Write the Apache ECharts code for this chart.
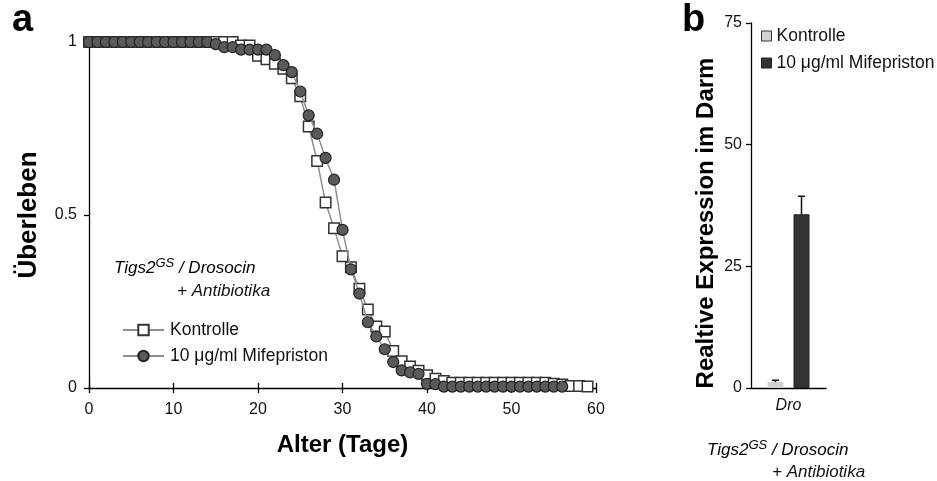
<!DOCTYPE html>
<html>
<head>
<meta charset="utf-8">
<script src="https://cdn.jsdelivr.net/npm/echarts@6/dist/echarts.min.js"></script>
<style>
  html, body { margin: 0; padding: 0; background: #fff; }
  #chart { width: 937px; height: 481px; }
</style>
</head>
<body>
<div id="chart"></div>
<script>
// Panel a: survival per day
const kontrolleDays = [0,1,2,3,4,5,6,7,8,9,10,11,12,13,14,15,16,17,18,19,20,21,22,23,24,25,26,27,28,29,30,31,32,33,34,35,36,37,38,39,40,41,42,43,44,45,46,47,48,49,50,51,52,53,54,55,56,57,58,59];
const kontrolleSurvival = [1,1,1,1,1,1,1,1,1,1,1,1,1,1,1,1,1,1,
  0.99,0.99,0.96,0.95,0.937,0.923,0.895,0.843,0.756,0.656,0.536,0.462,0.381,0.349,0.287,0.227,0.178,0.163,0.107,0.077,0.062,0.05,0.037,0.027,0.02,
  0.015,0.015,0.015,0.015,0.015,0.015,0.015,0.015,0.015,0.015,0.015,0.015,
  0.012,0.01,0.006,0.006,0.004];
const mifeDays = [0,1,2,3,4,5,6,7,8,9,10,11,12,13,14,15,16,17,18,19,20,21,22,23,24,25,26,27,28,29,30,31,32,33,34,35,36,37,38,39,40,41,42,43,44,45,46,47,48,49,50,51,52,53,54,55,56];
const mifeSurvival = [1,1,1,1,1,1,1,1,1,1,1,1,1,1,1,
  0.994,0.985,0.985,0.978,0.978,0.978,0.978,0.962,0.933,0.913,0.857,0.788,0.735,0.665,0.602,0.457,0.343,0.273,0.19,0.149,0.112,0.075,0.051,0.045,0.041,0.012,0.011,
  0.004,0.004,0.004,0.004,0.004,0.004,0.004,0.004,0.004,0.004,0.004,0.004,0.004,0.004,0.004];
const survivalTicks = [0, 0.5, 1];
const dayTicks = [0, 10, 20, 30, 40, 50, 60];

// Panel b: relative expression in the gut
const geneCategories = ['Dro'];
const kontrolleExpression = [1.2];
const kontrolleError = [0.4];
const mifeExpression = [35.7];
const mifeError = [3.7];
const expressionTicks = [0, 25, 50, 75];

const nameKontrolle = 'Kontrolle';
const nameMife = '10 \u03bcg/ml Mifepriston';
const gutPrefix = 'Darm: ';

const FONT = '"Liberation Sans", Arial, Helvetica, sans-serif';

const chart = echarts.init(document.getElementById('chart'), null, { renderer: 'canvas' });

function errorBar(offset) {
  return function (params, api) {
    const base = api.coord([api.value(0), api.value(1)]);
    const top = api.coord([api.value(0), api.value(1) + api.value(2)]);
    const x = base[0] + offset;
    const style = { stroke: '#111', lineWidth: 1.5 };
    return {
      type: 'group',
      children: [
        { type: 'line', shape: { x1: x, y1: base[1], x2: x, y2: top[1] }, style: style },
        { type: 'line', shape: { x1: x - 3.5, y1: top[1], x2: x + 3.5, y2: top[1] }, style: style }
      ]
    };
  };
}

const axisLineStyle = { color: '#000', width: 1.3 };
const tickLabel = { fontFamily: FONT, fontSize: 16, color: '#111' };
const titleStyle = { fontFamily: FONT, fontSize: 24, fontWeight: 'bold', color: '#000' };
const subtitleRich = {
  base: { fontFamily: FONT, fontSize: 17, fontStyle: 'italic', color: '#111' },
  sup: { fontFamily: FONT, fontSize: 13, fontStyle: 'italic', color: '#111', padding: [0, 0, 10, 0] }
};

const option = {
  animation: false,
  backgroundColor: '#fff',
  grid: [
    { left: 89, top: 42, width: 507, height: 346 },
    { left: 751, top: 23, width: 75, height: 365 }
  ],
  xAxis: [
    {
      gridIndex: 0, type: 'value', position: 'bottom',
      min: dayTicks[0], max: dayTicks[dayTicks.length - 1], interval: 10,
      axisLine: { lineStyle: axisLineStyle },
      axisTick: { length: 5, lineStyle: axisLineStyle },
      axisLabel: Object.assign({ margin: 14 }, tickLabel),
      splitLine: { show: false },
      name: 'Alter (Tage)', nameLocation: 'middle', nameGap: 45, nameTextStyle: titleStyle
    },
    {
      gridIndex: 0, type: 'value', position: 'bottom',
      min: dayTicks[0], max: dayTicks[dayTicks.length - 1], interval: 10,
      axisLine: { show: false },
      axisTick: { inside: true, length: 5, lineStyle: axisLineStyle },
      axisLabel: { show: false },
      splitLine: { show: false }
    },
    {
      gridIndex: 1, type: 'category', data: geneCategories,
      axisLine: { lineStyle: axisLineStyle },
      axisTick: { length: 6, lineStyle: axisLineStyle },
      axisLabel: Object.assign({ margin: 10, fontStyle: 'italic' }, tickLabel)
    }
  ],
  yAxis: [
    {
      gridIndex: 0, type: 'value', min: survivalTicks[0], max: survivalTicks[survivalTicks.length - 1], interval: 0.5,
      axisLine: { show: true, lineStyle: axisLineStyle },
      axisTick: { show: true, length: 5, lineStyle: axisLineStyle },
      axisLabel: Object.assign({ margin: 12 }, tickLabel),
      splitLine: { show: false },
      name: '\u00dcberleben', nameLocation: 'middle', nameGap: 47,
      nameTextStyle: Object.assign({}, titleStyle, { fontSize: 26 })
    },
    {
      gridIndex: 1, type: 'value', min: expressionTicks[0], max: expressionTicks[expressionTicks.length - 1], interval: 25,
      axisLine: { show: true, lineStyle: axisLineStyle },
      axisTick: { show: true, length: 5, lineStyle: axisLineStyle },
      axisLabel: Object.assign({ margin: 9 }, tickLabel),
      splitLine: { show: false }
    }
  ],
  legend: [
    {
      orient: 'vertical', left: 117, top: 315,
      itemWidth: 41, itemHeight: 13, itemGap: 6,
      data: [nameKontrolle, nameMife],
      textStyle: { fontFamily: FONT, fontSize: 17.5, color: '#111', lineHeight: 20, padding: [0, 0, 0, 1] }
    },
    {
      orient: 'vertical', left: 756, top: 21,
      itemWidth: 10, itemHeight: 10, itemGap: 7, icon: 'rect',
      data: [
        { name: gutPrefix + nameKontrolle, itemStyle: { borderColor: '#333', borderWidth: 1 } },
        { name: gutPrefix + nameMife, itemStyle: { borderColor: '#222', borderWidth: 1 } }
      ],
      formatter: function (name) { return name.replace(gutPrefix, ''); },
      textStyle: { fontFamily: FONT, fontSize: 17.5, color: '#111', lineHeight: 20 }
    }
  ],
  series: [
    {
      name: nameKontrolle, type: 'line', xAxisIndex: 0, yAxisIndex: 0,
      data: kontrolleDays.map(function (d, i) { return [d, kontrolleSurvival[i]]; }),
      symbol: 'rect', symbolSize: 10.5,
      itemStyle: { color: '#fff', borderColor: '#333', borderWidth: 1.5 },
      lineStyle: { color: '#8f8f8f', width: 1.5 },
      z: 2
    },
    {
      name: nameMife, type: 'line', xAxisIndex: 0, yAxisIndex: 0,
      data: mifeDays.map(function (d, i) { return [d, mifeSurvival[i]]; }),
      symbol: 'circle', symbolSize: 11,
      itemStyle: { color: '#5a5a5a', borderColor: '#222', borderWidth: 1.2 },
      lineStyle: { color: '#8f8f8f', width: 1.5 },
      z: 3
    },
    {
      name: gutPrefix + nameKontrolle, type: 'bar', xAxisIndex: 2, yAxisIndex: 1,
      data: kontrolleExpression, barWidth: 16, barGap: '62.5%',
      itemStyle: { color: '#d2d2d2' }
    },
    {
      name: gutPrefix + nameMife, type: 'bar', xAxisIndex: 2, yAxisIndex: 1,
      data: mifeExpression, barWidth: 16, barGap: '62.5%',
      itemStyle: { color: '#333', borderColor: '#222', borderWidth: 1 }
    },
    {
      type: 'custom', xAxisIndex: 2, yAxisIndex: 1, z: 5,
      renderItem: errorBar(-13),
      data: geneCategories.map(function (c, i) { return [i, kontrolleExpression[i], kontrolleError[i]]; })
    },
    {
      type: 'custom', xAxisIndex: 2, yAxisIndex: 1, z: 5,
      renderItem: errorBar(13),
      data: geneCategories.map(function (c, i) { return [i, mifeExpression[i], mifeError[i]]; })
    }
  ],
  graphic: [
    { type: 'text', x: 12, y: 2, style: { text: 'a', fontFamily: FONT, fontSize: 38, fontWeight: 'bold', fill: '#000' } },
    { type: 'text', x: 682, y: 2, style: { text: 'b', fontFamily: FONT, fontSize: 38, fontWeight: 'bold', fill: '#000' } },
    { type: 'text', x: 114, y: 257, style: { text: '{base|Tigs2}{sup|GS}{base| / Drosocin}', rich: subtitleRich } },
    { type: 'text', x: 177, y: 283, style: { text: '+ Antibiotika', fontFamily: FONT, fontSize: 17, fontStyle: 'italic', fill: '#111' } },
    { type: 'text', x: 707, y: 439, style: { text: '{base|Tigs2}{sup|GS}{base| / Drosocin}', rich: subtitleRich } },
    { type: 'text', x: 772, y: 464, style: { text: '+ Antibiotika', fontFamily: FONT, fontSize: 17, fontStyle: 'italic', fill: '#111' } },
    {
      type: 'text', x: 706, y: 223, rotation: Math.PI / 2,
      style: { text: 'Realtive Expression im Darm', fontFamily: FONT, fontSize: 24, fontWeight: 'bold', fill: '#000', align: 'center', verticalAlign: 'middle' }
    }
  ]
};

chart.setOption(option);
</script>
</body>
</html>
